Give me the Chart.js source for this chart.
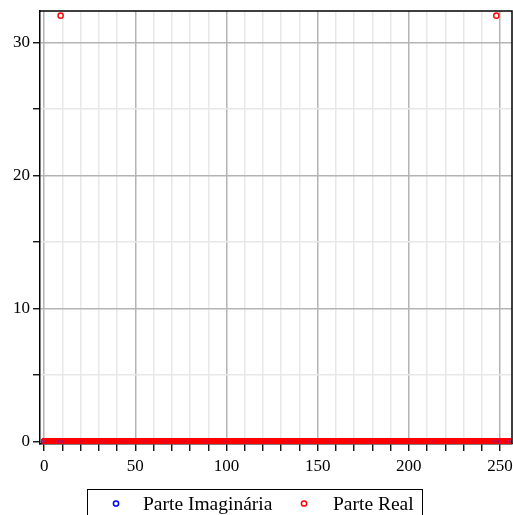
<!DOCTYPE html>
<html>
<head>
<meta charset="utf-8">
<script src="https://cdn.jsdelivr.net/npm/chart.js@4/dist/chart.umd.min.js"></script>
<style>
  body { margin: 0; background: #fff; }
  canvas { display: block; }
</style>
</head>
<body>
<canvas id="fftChart" width="513" height="515"></canvas>
<script>
// FFT output, 256 bins (index 0..255)
const realPart = [
  0,0,0,0,0,0,0,0,0,32,0,0,0,0,0,0,
  0,0,0,0,0,0,0,0,0,0,0,0,0,0,0,0,
  0,0,0,0,0,0,0,0,0,0,0,0,0,0,0,0,
  0,0,0,0,0,0,0,0,0,0,0,0,0,0,0,0,
  0,0,0,0,0,0,0,0,0,0,0,0,0,0,0,0,
  0,0,0,0,0,0,0,0,0,0,0,0,0,0,0,0,
  0,0,0,0,0,0,0,0,0,0,0,0,0,0,0,0,
  0,0,0,0,0,0,0,0,0,0,0,0,0,0,0,0,
  0,0,0,0,0,0,0,0,0,0,0,0,0,0,0,0,
  0,0,0,0,0,0,0,0,0,0,0,0,0,0,0,0,
  0,0,0,0,0,0,0,0,0,0,0,0,0,0,0,0,
  0,0,0,0,0,0,0,0,0,0,0,0,0,0,0,0,
  0,0,0,0,0,0,0,0,0,0,0,0,0,0,0,0,
  0,0,0,0,0,0,0,0,0,0,0,0,0,0,0,0,
  0,0,0,0,0,0,0,0,0,0,0,0,0,0,0,0,
  0,0,0,0,0,0,0,0,32,0,0,0,0,0,0,0
];
const imagPart = [
  0,0,0,0,0,0,0,0,0,0,0,0,0,0,0,0,
  0,0,0,0,0,0,0,0,0,0,0,0,0,0,0,0,
  0,0,0,0,0,0,0,0,0,0,0,0,0,0,0,0,
  0,0,0,0,0,0,0,0,0,0,0,0,0,0,0,0,
  0,0,0,0,0,0,0,0,0,0,0,0,0,0,0,0,
  0,0,0,0,0,0,0,0,0,0,0,0,0,0,0,0,
  0,0,0,0,0,0,0,0,0,0,0,0,0,0,0,0,
  0,0,0,0,0,0,0,0,0,0,0,0,0,0,0,0,
  0,0,0,0,0,0,0,0,0,0,0,0,0,0,0,0,
  0,0,0,0,0,0,0,0,0,0,0,0,0,0,0,0,
  0,0,0,0,0,0,0,0,0,0,0,0,0,0,0,0,
  0,0,0,0,0,0,0,0,0,0,0,0,0,0,0,0,
  0,0,0,0,0,0,0,0,0,0,0,0,0,0,0,0,
  0,0,0,0,0,0,0,0,0,0,0,0,0,0,0,0,
  0,0,0,0,0,0,0,0,0,0,0,0,0,0,0,0,
  0,0,0,0,0,0,0,0,0,0,0,0,0,0,0,0
];
const seriesNames = ['Parte Imaginária', 'Parte Real'];

// tick positions (every one gets a grid line, labelled ones get a darker line)
const xTicks = [0,10,20,30,40,50,60,70,80,90,100,110,120,130,140,150,160,170,180,190,200,210,220,230,240,250];
const xLabels = [0,50,100,150,200,250];
const yTicks = [0,5,10,15,20,25,30];
const yLabels = [0,10,20,30];

const MAJOR = '#b4b4b4';
const MINOR = '#e8e8e8';
const FONT = '"Liberation Serif", "Times New Roman", serif';

Chart.defaults.font.family = FONT;
Chart.defaults.font.size = 17;
Chart.defaults.color = '#000';

const toPoints = arr => arr.map((y, i) => ({ x: i, y: y }));

// keep the plot box fixed: no extra room for overhanging labels
const fixPadding = s => {
  s.paddingLeft = 0; s.paddingRight = 0;
  s.paddingTop = 0; s.paddingBottom = 0;
};

// black frame around the plot area
const frame = {
  id: 'frame',
  afterDatasetsDraw(chart) {
    const { ctx, chartArea: a } = chart;
    ctx.save();
    ctx.strokeStyle = '#000';
    ctx.lineWidth = 1.5;
    ctx.beginPath();
    ctx.moveTo(a.left, a.top);
    ctx.lineTo(a.right, a.top);
    ctx.lineTo(a.right, a.bottom);
    ctx.stroke();
    ctx.restore();
  }
};

// boxed legend under the plot
const boxLegend = {
  id: 'boxLegend',
  afterDraw(chart) {
    const ctx = chart.ctx;
    ctx.save();
    ctx.strokeStyle = '#000';
    ctx.lineWidth = 1;
    ctx.strokeRect(87.5, 489.5, 335, 40);
    const items = [
      { ds: chart.data.datasets[1], mx: 116, tx: 143 },
      { ds: chart.data.datasets[0], mx: 304, tx: 333 }
    ];
    ctx.font = '19.5px ' + FONT;
    ctx.textBaseline = 'alphabetic';
    ctx.fillStyle = '#000';
    items.forEach(it => {
      ctx.beginPath();
      ctx.arc(it.mx, 503.5, 2.6, 0, Math.PI * 2);
      ctx.strokeStyle = it.ds.borderColor;
      ctx.lineWidth = 1.5;
      ctx.stroke();
      ctx.fillText(it.ds.label, it.tx, 509.5);
    });
    ctx.restore();
  }
};

new Chart(document.getElementById('fftChart'), {
  type: 'scatter',
  data: {
    datasets: [
      {
        label: seriesNames[1],
        data: toPoints(realPart),
        borderColor: '#ff0000',
        backgroundColor: 'rgba(0,0,0,0)',
        pointRadius: 2.6,
        borderWidth: 1.4,
        order: 0
      },
      {
        label: seriesNames[0],
        data: toPoints(imagPart),
        borderColor: '#0000ff',
        backgroundColor: 'rgba(0,0,0,0)',
        pointRadius: 2.6,
        borderWidth: 1.4,
        order: 1
      }
    ]
  },
  options: {
    responsive: false,
    animation: false,
    layout: { autoPadding: false, padding: { left: 0, top: 11, right: 1, bottom: 41 } },
    plugins: { legend: { display: false }, tooltip: { enabled: false } },
    scales: {
      x: {
        type: 'linear',
        min: -2.3,
        max: 256.6,
        afterBuildTicks: s => { s.ticks = xTicks.map(v => ({ value: v })); },
        afterFit: s => { s.height = 30; fixPadding(s); },
        ticks: {
          autoSkip: false,
          maxRotation: 0,
          padding: 5,
          callback: v => xLabels.includes(v) ? String(v) : ''
        },
        grid: {
          color: c => xLabels.includes(c.tick && c.tick.value) ? MAJOR : MINOR,
          lineWidth: 1.5,
          tickLength: 7,
          tickColor: '#000',
          tickWidth: 1.3
        },
        border: { display: true, color: '#000', width: 1.5 }
      },
      y: {
        type: 'linear',
        min: -0.2,
        max: 32.35,
        afterBuildTicks: s => { s.ticks = yTicks.map(v => ({ value: v })); },
        afterFit: s => { s.width = 40; fixPadding(s); },
        ticks: {
          autoSkip: false,
          padding: 3,
          callback: v => yLabels.includes(v) ? String(v) : ''
        },
        grid: {
          color: c => yLabels.includes(c.tick && c.tick.value) ? MAJOR : MINOR,
          lineWidth: 1.5,
          tickLength: 7,
          tickColor: '#000',
          tickWidth: 1.3
        },
        border: { display: true, color: '#000', width: 1.5 }
      }
    }
  },
  plugins: [frame, boxLegend]
});
</script>
</body>
</html>
